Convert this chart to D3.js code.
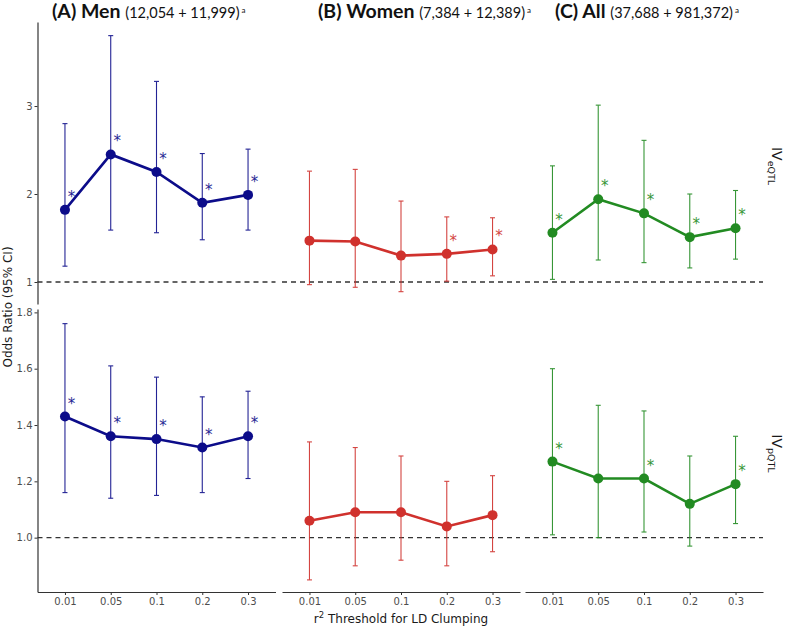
<!DOCTYPE html>
<html>
<head>
<meta charset="utf-8">
<script src="https://cdn.jsdelivr.net/npm/d3@7"></script>
<style>
  body { margin: 0; background: #fff; }
  svg { display: block; }
</style>
</head>
<body>
<svg id="chart"></svg>
<script>
const thresholds = ["0.01", "0.05", "0.1", "0.2", "0.3"];
const groupTitles = ["(A) Men", "(B) Women", "(C) All"];
const groupCounts = ["(12,054 + 11,999)", "(7,384 + 12,389)", "(37,688 + 981,372)"];
const groupColors = ["#0c0c8a", "#d0312d", "#228b22"];
const ivLabels = ["eQTL", "pQTL"];

// rows: Men, Women, All
const eqtlOR   = [[1.82, 2.45, 2.25, 1.90, 1.99], [1.47, 1.46, 1.30, 1.32, 1.37], [1.56, 1.94, 1.78, 1.51, 1.61]];
const eqtlLow  = [[1.18, 1.59, 1.56, 1.48, 1.59], [0.97, 0.94, 0.89, 1.01, 1.07], [1.03, 1.25, 1.22, 1.16, 1.26]];
const eqtlHigh = [[2.80, 3.80, 3.28, 2.46, 2.51], [2.26, 2.28, 1.92, 1.74, 1.73], [2.32, 3.01, 2.61, 2.00, 2.04]];
const eqtlSig  = [[1, 1, 1, 1, 1], [0, 0, 0, 1, 1], [1, 1, 1, 1, 1]];

const pqtlOR   = [[1.43, 1.36, 1.35, 1.32, 1.36], [1.06, 1.09, 1.09, 1.04, 1.08], [1.27, 1.21, 1.21, 1.12, 1.19]];
const pqtlLow  = [[1.16, 1.14, 1.15, 1.16, 1.21], [0.85, 0.90, 0.92, 0.90, 0.95], [1.01, 1.00, 1.02, 0.97, 1.05]];
const pqtlHigh = [[1.76, 1.61, 1.57, 1.50, 1.52], [1.34, 1.32, 1.29, 1.20, 1.22], [1.60, 1.47, 1.45, 1.29, 1.36]];
const pqtlSig  = [[1, 1, 1, 1, 1], [0, 0, 0, 0, 0], [1, 0, 1, 0, 1]];

const topTicks = [1, 2, 3];
const bottomTicks = [1.0, 1.2, 1.4, 1.6, 1.8];

const W = 787, H = 628;
const svg = d3.select("#chart").attr("width", W).attr("height", H);

const panelLeft = [37.5, 282, 525];
const panelW = 238;

const x = d3.scalePoint().domain(thresholds).range([0, panelW]).padding(0.6);

const rows = [
  { or: eqtlOR, lo: eqtlLow, hi: eqtlHigh, sig: eqtlSig, ticks: topTicks, fmt: d3.format("d"),
    y: d3.scaleLinear().domain([0.75, 3.955]).range([304, 22]) },
  { or: pqtlOR, lo: pqtlLow, hi: pqtlHigh, sig: pqtlSig, ticks: bottomTicks, fmt: d3.format(".1f"),
    y: d3.scaleLinear().domain([0.807, 1.812]).range([592, 309]) }
];

rows.forEach((row, r) => {
  const y = row.y;

  // left axis only on first column
  const ya = svg.append("g")
    .attr("transform", `translate(${panelLeft[0]},0)`)
    .call(d3.axisLeft(y).tickValues(row.ticks).tickFormat(row.fmt).tickSize(3).tickSizeOuter(0).tickPadding(2));
  ya.select(".domain").attr("stroke", "#333").attr("stroke-width", 1.2);
  ya.selectAll(".tick line").attr("stroke", "#333");
  ya.selectAll("text").attr("fill", "#4d4d4d").style("font", "10px 'DejaVu Sans'");

  groupTitles.forEach((g, c) => {
    const panel = svg.append("g").attr("transform", `translate(${panelLeft[c]},0)`);
    const color = groupColors[c];
    const data = thresholds.map((t, i) => ({
      t, or: row.or[c][i], lo: row.lo[c][i], hi: row.hi[c][i], sig: row.sig[c][i]
    }));

    // reference line at OR = 1
    panel.append("line")
      .attr("x1", 0).attr("x2", panelW)
      .attr("y1", y(1)).attr("y2", y(1))
      .attr("stroke", "#333").attr("stroke-width", 1.3)
      .attr("stroke-dasharray", "5,4");

    // error bars
    const eb = panel.selectAll(".eb").data(data).enter().append("g")
      .attr("stroke", color).attr("stroke-width", 1.1).attr("opacity", 0.9);
    eb.append("line")
      .attr("x1", d => x(d.t)).attr("x2", d => x(d.t))
      .attr("y1", d => y(d.lo)).attr("y2", d => y(d.hi));
    eb.append("line")
      .attr("x1", d => x(d.t) - 2.5).attr("x2", d => x(d.t) + 2.5)
      .attr("y1", d => y(d.lo)).attr("y2", d => y(d.lo));
    eb.append("line")
      .attr("x1", d => x(d.t) - 2.5).attr("x2", d => x(d.t) + 2.5)
      .attr("y1", d => y(d.hi)).attr("y2", d => y(d.hi));

    panel.append("path")
      .datum(data)
      .attr("fill", "none")
      .attr("stroke", color)
      .attr("stroke-width", 2.6)
      .attr("d", d3.line().x(d => x(d.t)).y(d => y(d.or)));

    panel.selectAll(".pt").data(data).enter().append("circle")
      .attr("cx", d => x(d.t)).attr("cy", d => y(d.or))
      .attr("r", 5).attr("fill", color);

    panel.selectAll(".star").data(data.filter(d => d.sig)).enter().append("text")
      .attr("x", d => x(d.t) + 6.5).attr("y", d => y(d.or) - 8)
      .attr("text-anchor", "middle")
      .attr("fill", color).attr("opacity", 0.9)
      .style("font", "15px 'DejaVu Sans'")
      .text("*");

    if (r === 1) {
      const xa = panel.append("g")
        .attr("transform", `translate(0,${y.range()[0]})`)
        .call(d3.axisBottom(x).tickSize(3).tickSizeOuter(0).tickPadding(3));
      xa.select(".domain").attr("stroke", "#333").attr("stroke-width", 1.2);
      xa.selectAll(".tick line").attr("stroke", "#333");
      xa.selectAll("text").attr("fill", "#4d4d4d").style("font", "10px 'DejaVu Sans'");
    }
  });

  // strip label on the right
  const yc = (y.range()[0] + y.range()[1]) / 2 + 3;
  const strip = svg.append("text")
    .attr("transform", `translate(772,${yc}) rotate(90)`)
    .attr("text-anchor", "middle")
    .attr("fill", "#1a1a1a")
    .style("font-family", "'DejaVu Sans'");
  strip.append("tspan").style("font-size", "14px").text("IV");
  strip.append("tspan").style("font-size", "9.5px").attr("dy", 4).text(ivLabels[r]);
});

// panel titles
const titleX = [52, 318, 555];
groupTitles.forEach((g, c) => {
  const t = svg.append("text")
    .attr("x", titleX[c]).attr("y", 18)
    .attr("fill", "#111")
    .style("font-family", "Lato, 'Open Sans', sans-serif");
  t.append("tspan").style("font-size", "19.5px").style("font-weight", "bold").text(g + " ");
  t.append("tspan").style("font-size", "14.5px").text(groupCounts[c]);
  t.append("tspan").style("font-size", "8px").attr("dy", -5).attr("dx", 2).text("a");
});

// axis titles
svg.append("text")
  .attr("transform", "translate(12,307) rotate(-90)")
  .attr("text-anchor", "middle")
  .attr("fill", "#1a1a1a")
  .style("font", "12px 'DejaVu Sans'")
  .text("Odds Ratio (95% CI)");

const xt = svg.append("text")
  .attr("x", 401).attr("y", 623)
  .attr("text-anchor", "middle")
  .attr("fill", "#1a1a1a")
  .style("font", "12px 'DejaVu Sans'");
xt.append("tspan").text("r");
xt.append("tspan").attr("dy", -5).style("font-size", "8.5px").text("2");
xt.append("tspan").attr("dy", 5).text(" Threshold for LD Clumping");
</script>
</body>
</html>
